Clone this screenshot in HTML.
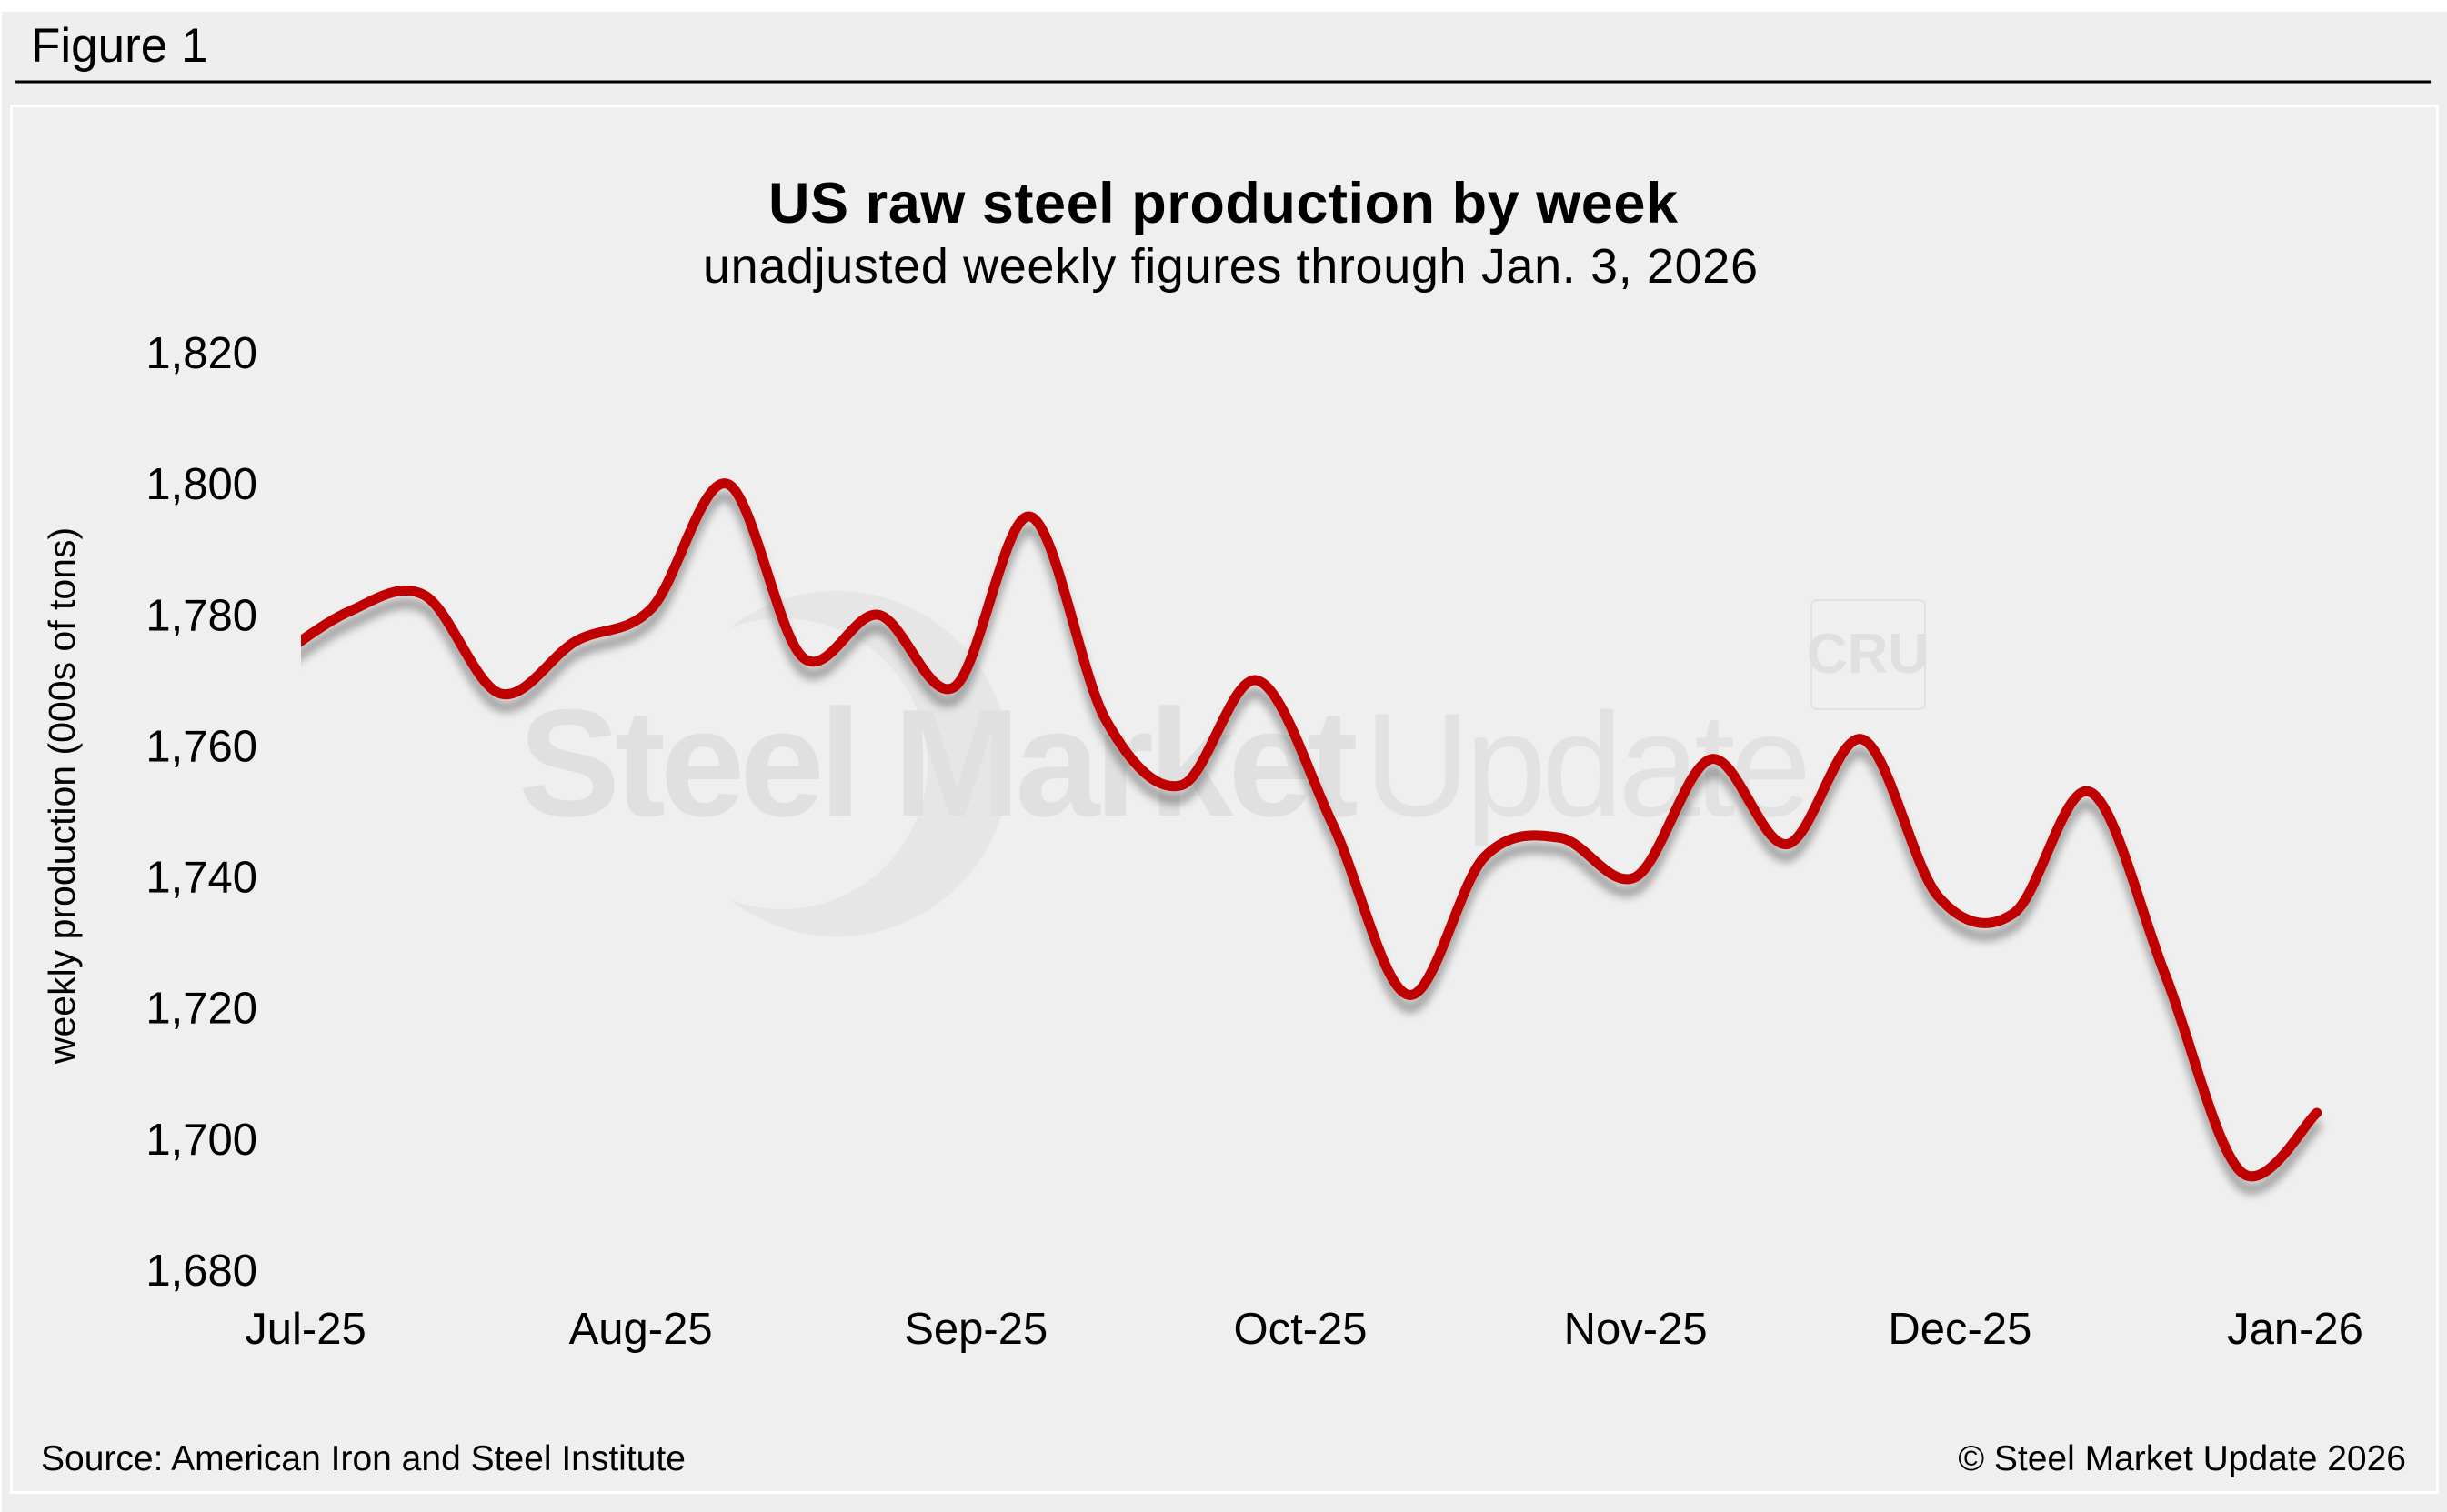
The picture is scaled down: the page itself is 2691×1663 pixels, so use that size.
<!DOCTYPE html>
<html><head><meta charset="utf-8">
<style>
html,body{margin:0;padding:0;background:#fff;}
body{width:2691px;height:1663px;position:relative;overflow:hidden;font-family:"Liberation Sans",sans-serif;}
svg{position:absolute;left:0;top:0;}
</style></head>
<body>
<svg id="chart" width="2691" height="1663" viewBox="0 0 2691 1663">
  <defs>
    <filter id="shadow" x="-5%" y="-20%" width="110%" height="140%">
      <feGaussianBlur in="SourceAlpha" stdDeviation="5"/>
      <feOffset dx="0" dy="14"/>
      <feComponentTransfer><feFuncA type="linear" slope="0.35"/></feComponentTransfer>
      <feMerge><feMergeNode/><feMergeNode in="SourceGraphic"/></feMerge>
    </filter>
    <clipPath id="plotclip"><rect x="331" y="330" width="2240" height="1100"/></clipPath>
  </defs>
  <rect x="2" y="13" width="2689" height="1650" fill="#eeeeee"/>
  <text x="34" y="68" font-size="53" fill="#000">Figure 1</text>
  <line x1="17" y1="90" x2="2673" y2="90" stroke="#000" stroke-width="3"/>
  <rect x="12.5" y="116.5" width="2668" height="1525" fill="#efefef" stroke="#ffffff" stroke-width="3"/>

  <g>
    <circle cx="920" cy="840" r="190" fill="#e6e6e6"/>
    <circle cx="860" cy="840" r="160" fill="#efefef"/>
    <text x="570" y="897" font-size="168" font-weight="bold" fill="#e0e0e0" letter-spacing="-6">Steel Market</text>
    <text x="1500" y="897" font-size="162" fill="#e2e2e2" letter-spacing="-6">Update</text>
    <rect x="1992" y="660" width="125" height="120" rx="6" fill="none" stroke="#e2e2e2" stroke-width="2"/>
    <text x="2054" y="740" font-size="62" font-weight="bold" fill="#e0e0e0" text-anchor="middle">CRU</text>
  </g>

  <text x="1345" y="245" font-size="63" font-weight="bold" text-anchor="middle" fill="#000" textLength="1000">US raw steel production by week</text>
  <text x="1353" y="311" font-size="54" text-anchor="middle" fill="#000" textLength="1160">unadjusted weekly figures through Jan. 3, 2026</text>
  <text transform="translate(82,875) rotate(-90)" font-size="41" text-anchor="middle" fill="#000">weekly production (000s of tons)</text>

  <g id="yticks"></g>
  <g id="xticks"></g>
  <g id="series" clip-path="url(#plotclip)"></g>

  <text x="45" y="1617" font-size="39" fill="#000">Source: American Iron and Steel Institute</text>
  <text x="2646" y="1617" font-size="39" text-anchor="end" fill="#000">© Steel Market Update 2026</text>
</svg>
<script>
const weekDates = ["2025-06-28","2025-07-05","2025-07-12","2025-07-19","2025-07-26","2025-08-02","2025-08-09","2025-08-16","2025-08-23","2025-08-30","2025-09-06","2025-09-13","2025-09-20","2025-09-27","2025-10-04","2025-10-11","2025-10-18","2025-10-25","2025-11-01","2025-11-08","2025-11-15","2025-11-22","2025-11-29","2025-12-06","2025-12-13","2025-12-20","2025-12-27","2026-01-03"];
const production = [1773,1780.5,1783,1768,1776,1781,1800,1773.5,1780,1769,1795,1764,1754,1770,1748,1722,1743,1746,1740,1758,1745,1761,1737,1734.5,1753,1725,1695,1704];
const yTickValues = [1680,1700,1720,1740,1760,1780,1800,1820];
const xTickDates = ["2025-07-01","2025-08-01","2025-09-01","2025-10-01","2025-11-01","2025-12-01","2026-01-01"];
const xTickLabels = ["Jul-25","Aug-25","Sep-25","Oct-25","Nov-25","Dec-25","Jan-26"];

const NS = "http://www.w3.org/2000/svg";
const day0 = Date.UTC(2025,6,1);
function dayOf(s){const p=s.split("-");return (Date.UTC(+p[0],+p[1]-1,+p[2])-day0)/86400000;}
function xScale(s){return 336 + dayOf(s)*(2524-336)/184;}
function yScale(v){return 1397 - (v-1680)*(1397-388)/140;}

const yg = document.getElementById("yticks");
yTickValues.forEach(v=>{
  const t=document.createElementNS(NS,"text");
  t.setAttribute("x",283);t.setAttribute("y",yScale(v)+17);
  t.setAttribute("font-size","49");t.setAttribute("text-anchor","end");
  t.textContent=v.toLocaleString("en-US");
  
  
  yg.appendChild(t);
});
const xg = document.getElementById("xticks");
xTickDates.forEach((d,i)=>{
  const t=document.createElementNS(NS,"text");
  t.setAttribute("x",xScale(d));t.setAttribute("y",1478);
  t.setAttribute("font-size","49");t.setAttribute("text-anchor","middle");
  t.textContent=xTickLabels[i];
  
  
  xg.appendChild(t);
});

const pts = weekDates.map((d,i)=>[xScale(d),yScale(production[i])]);
let dstr = "M"+pts[0][0]+","+pts[0][1];
for(let i=0;i<pts.length-1;i++){
  const p0=pts[Math.max(0,i-1)],p1=pts[i],p2=pts[i+1],p3=pts[Math.min(pts.length-1,i+2)];
  const c1=[p1[0]+(p2[0]-p0[0])/6,p1[1]+(p2[1]-p0[1])/6];
  const c2=[p2[0]-(p3[0]-p1[0])/6,p2[1]-(p3[1]-p1[1])/6];
  dstr+=" C"+c1[0]+","+c1[1]+" "+c2[0]+","+c2[1]+" "+p2[0]+","+p2[1];
}
const path=document.createElementNS(NS,"path");
path.setAttribute("d",dstr);
path.setAttribute("fill","none");
path.setAttribute("stroke","#c00000");
path.setAttribute("stroke-width","11");
path.setAttribute("stroke-linecap","round");
path.setAttribute("stroke-linejoin","round");
path.setAttribute("filter","url(#shadow)");


document.getElementById("series").appendChild(path);
</script>
</body></html>
